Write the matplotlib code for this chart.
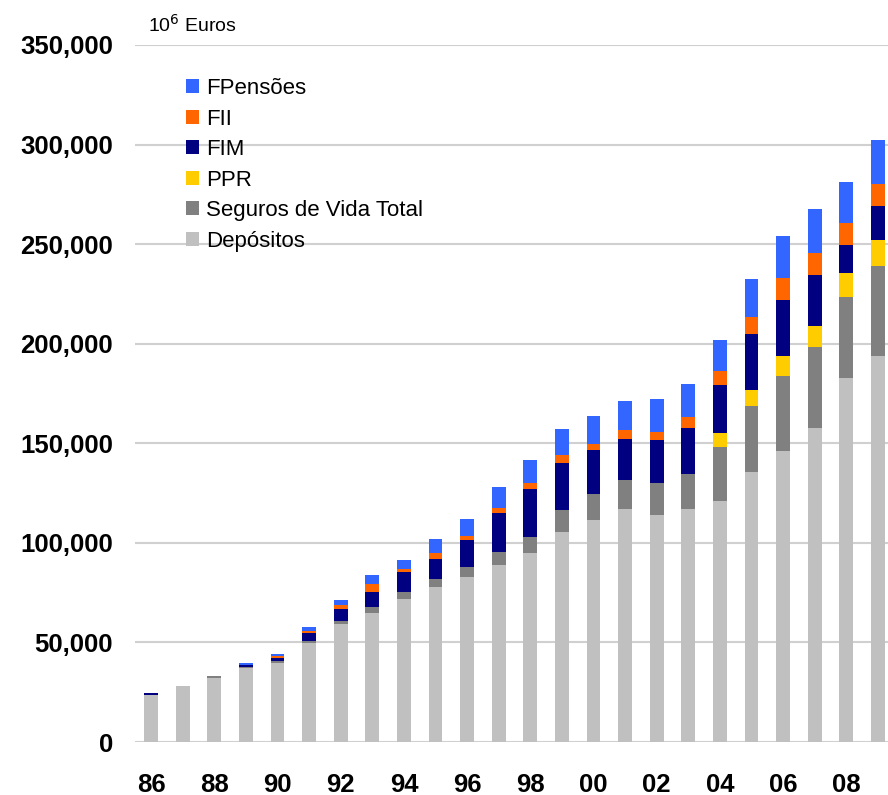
import matplotlib
matplotlib.use("Agg")
import matplotlib.pyplot as plt
from matplotlib.patches import Patch
from matplotlib.ticker import FuncFormatter
import numpy as np

plt.rcParams['font.family'] = ['Liberation Sans', 'DejaVu Sans']

years = ['86', '87', '88', '89', '90', '91', '92', '93', '94', '95', '96', '97',
         '98', '99', '00', '01', '02', '03', '04', '05', '06', '07', '08', '09']

# values in thousands (multiplied by 1000 below), units 10^6 Euros
depositos = [23.5, 28.0, 32.0, 37.0, 39.7, 49.7, 59.2, 64.8, 71.8, 77.8, 82.8, 88.9,
             94.9, 105.4, 111.4, 117.0, 114.0, 117.0, 121.0, 135.5, 146.0, 157.6, 182.7, 193.8]
seguros = [0, 0, 1.0, 0.5, 1.0, 1.0, 1.5, 3.0, 3.5, 4.0, 5.0, 6.5,
           8.0, 11.0, 13.0, 14.6, 16.1, 17.6, 27.1, 33.1, 37.6, 40.7, 40.7, 45.2]
ppr = [0, 0, 0, 0, 0, 0, 0, 0, 0, 0, 0, 0,
       0, 0, 0, 0, 0, 0, 7.0, 8.0, 10.0, 10.5, 12.0, 13.0]
fim = [1.0, 0, 0, 1.0, 1.5, 4.0, 6.0, 7.5, 10.0, 10.0, 13.5, 19.6,
       24.1, 23.6, 22.1, 20.6, 21.6, 23.1, 24.1, 28.1, 28.6, 25.6, 14.1, 17.1]
fii = [0, 0, 0, 0, 1.0, 1.0, 2.0, 4.2, 1.5, 3.0, 2.2, 2.7,
       3.0, 4.0, 3.2, 4.7, 4.0, 5.5, 7.0, 8.5, 10.7, 11.0, 11.0, 11.2]
fpensoes = [0, 0, 0, 1.0, 1.0, 2.0, 2.5, 4.4, 4.5, 7.0, 8.4, 10.4,
            11.5, 13.0, 13.9, 14.4, 16.6, 16.6, 15.6, 19.1, 21.4, 22.1, 20.6, 21.9]

series = [
    ('Depósitos', depositos, '#C0C0C0'),
    ('Seguros de Vida Total', seguros, '#808080'),
    ('PPR', ppr, '#FFCC00'),
    ('FIM', fim, '#000080'),
    ('FII', fii, '#FF6600'),
    ('FPensões', fpensoes, '#3366FF'),
]

W, H = 888, 795
fig = plt.figure(figsize=(W / 100, H / 100), dpi=100)
ax = fig.add_axes([135 / W, (H - 742) / H, (888 - 135) / W, (742 - 45) / H])

x = np.arange(len(years))
bottom = np.zeros(len(years))
handles = []
for name, vals, col in series:
    v = np.array(vals) * 1000
    ax.bar(x, v, width=0.44, bottom=bottom, color=col, zorder=3, linewidth=0)
    bottom += v
    handles.append(Patch(facecolor=col, edgecolor='none', label=name))

ax.set_ylim(0, 350000)
ax.set_xlim(-0.51, 23.32)
ax.set_yticks(np.arange(0, 350001, 50000))
ax.yaxis.set_major_formatter(FuncFormatter(lambda v, p: f"{int(v):,}"))
ax.set_xticks(x[::2])
ax.set_xticklabels(years[::2])
ax.grid(axis='y', color='#D0D0D0', linewidth=1.5, zorder=0)
ax.tick_params(axis='both', length=0, labelsize=18.5)
ax.tick_params(axis='y', pad=16)
ax.tick_params(axis='x', pad=22)
for lab in ax.get_xticklabels() + ax.get_yticklabels():
    lab.set_fontweight('bold')
for s in ax.spines.values():
    s.set_visible(False)

fig.text(148 / W, 1 - 25 / H, r'10$^6$ Euros', fontsize=14, va='center', ha='left')

leg = fig.legend(handles=handles[::-1], loc='upper left',
                 bbox_to_anchor=(186 / W, 1 - 78 / H), frameon=False,
                 fontsize=16, handlelength=0.6, handleheight=0.6,
                 handletextpad=0.3, labelspacing=0.43, borderaxespad=0,
                 borderpad=0)

fig.savefig('out.png', dpi=100)
